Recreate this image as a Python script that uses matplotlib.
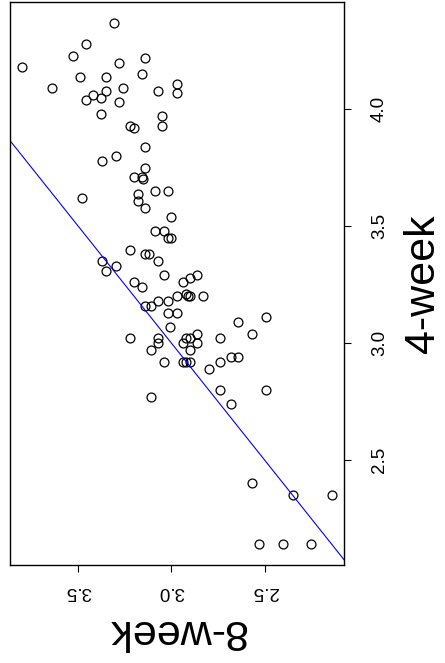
import matplotlib.pyplot as plt

plt.rcParams['font.family'] = ['Liberation Sans', 'DejaVu Sans']

# 8-week score (horizontal, runs right to left) and 4-week score (vertical)
eight_week = [3.31, 3.46, 3.53, 3.14, 3.80, 3.28, 3.49, 3.35, 3.16, 3.64,
              3.26, 3.35, 3.42, 3.38, 3.46, 3.28, 3.07, 2.97, 2.97, 3.38,
              3.05, 3.05, 3.22, 3.20, 3.14, 3.30, 3.37, 3.14, 3.20, 3.16,
              3.15, 3.48, 3.18, 3.09, 3.02, 3.18, 3.14, 3.00, 3.09, 3.04,
              3.02, 3.00, 3.22, 3.14, 3.12, 3.07, 3.37, 3.30, 3.35, 3.04,
              3.20, 3.16, 2.86, 2.90, 2.94, 3.07, 3.02, 3.14, 3.11, 3.02,
              3.01, 3.22, 3.07, 3.07, 3.11, 3.04, 3.11, 2.92, 2.97, 2.91,
              2.90, 2.83, 2.97, 2.64, 2.49, 2.57, 2.86, 2.92, 2.90, 2.74,
              2.94, 2.86, 2.90, 2.68, 2.64, 2.94, 2.92, 2.90, 2.74, 2.80,
              2.74, 2.49, 2.68, 2.57, 2.35, 2.14, 2.53, 2.40, 2.25]
four_week = [4.37, 4.28, 4.23, 4.22, 4.18, 4.20, 4.14, 4.14, 4.15, 4.09,
             4.09, 4.08, 4.06, 4.05, 4.04, 4.03, 4.08, 4.11, 4.07, 3.98,
             3.97, 3.93, 3.93, 3.92, 3.84, 3.80, 3.78, 3.75, 3.71, 3.71,
             3.70, 3.62, 3.64, 3.65, 3.65, 3.61, 3.58, 3.54, 3.48, 3.48,
             3.45, 3.45, 3.40, 3.38, 3.38, 3.35, 3.35, 3.33, 3.31, 3.29,
             3.26, 3.24, 3.29, 3.28, 3.26, 3.18, 3.18, 3.16, 3.16, 3.13,
             3.07, 3.02, 3.02, 3.00, 2.97, 2.92, 2.77, 3.21, 3.20, 3.20,
             3.20, 3.20, 3.13, 3.09, 3.11, 3.04, 3.04, 3.02, 3.02, 3.02,
             3.00, 3.00, 2.97, 2.94, 2.94, 2.92, 2.92, 2.92, 2.92, 2.89,
             2.80, 2.80, 2.74, 2.40, 2.35, 2.35, 2.14, 2.14, 2.14]

x_ticks = [2.5, 3.0, 3.5]
y_ticks = [2.5, 3.0, 3.5, 4.0]


def padded(vals, frac=0.04):
    lo, hi = min(vals), max(vals)
    d = (hi - lo) * frac
    return lo - d, hi + d


fig = plt.figure(figsize=(4.45, 6.63), dpi=100)
ax = fig.add_axes([10 / 445, 98 / 663, 334 / 445, 563 / 663])

ax.plot(eight_week, four_week, 'o', mfc='none', mec='black', ms=6.4, mew=0.9)
ax.axline((2.0, 2.0), (4.0, 4.0), color='blue', lw=0.8)

x_lo, x_hi = padded(eight_week)
ax.set_xlim(x_hi, x_lo)
ax.set_ylim(*padded(four_week))

for s in ax.spines.values():
    s.set_linewidth(1.0)
    s.set_color('black')

ax.set_xticks(x_ticks)
ax.set_xticklabels([f'{t:.1f}' for t in x_ticks])
ax.tick_params(axis='x', length=5, width=0.8, labelsize=13.5,
               labelrotation=180, pad=8)

ax.yaxis.tick_right()
ax.set_yticks(y_ticks)
ax.set_yticklabels([f'{t:.1f}' for t in y_ticks])
ax.tick_params(axis='y', length=5, width=0.8, labelsize=13.5,
               labelrotation=90, pad=14.5)
for lbl in ax.get_yticklabels():
    lbl.set_va('center')

ax.set_xlabel('8-week', fontsize=31, rotation=180, va='center')
ax.xaxis.set_label_coords(0.5, -0.117)
ax.yaxis.set_label_position('right')
ax.set_ylabel('4-week', fontsize=31, rotation=90, va='center')
ax.yaxis.set_label_coords(1.238, 0.5)

fig.savefig('out.png', dpi=100)
